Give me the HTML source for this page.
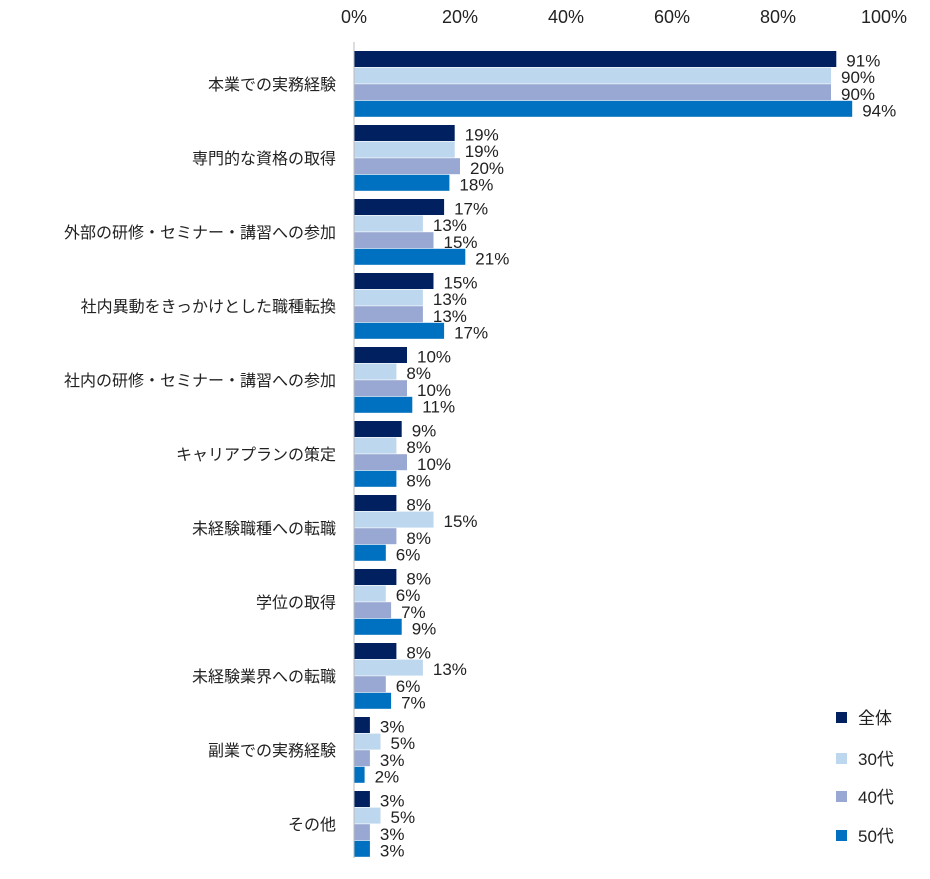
<!DOCTYPE html>
<html><head><meta charset="utf-8">
<style>
html,body{margin:0;padding:0;background:#fff;}
svg text{font-family:"Liberation Sans","Noto Sans CJK JP",sans-serif;fill:#222;}
</style></head>
<body>
<svg id="chart" width="930" height="874" xmlns="http://www.w3.org/2000/svg"></svg>
<script>
const categories = ["本業での実務経験","専門的な資格の取得","外部の研修・セミナー・講習への参加","社内異動をきっかけとした職種転換","社内の研修・セミナー・講習への参加","キャリアプランの策定","未経験職種への転職","学位の取得","未経験業界への転職","副業での実務経験","その他"];
const seriesNames = ["全体","30代","40代","50代"];
const valsAll = [91,19,17,15,10,9,8,8,8,3,3];
const vals30 = [90,19,13,13,8,8,15,6,13,5,5];
const vals40 = [90,20,15,13,10,10,8,7,6,3,3];
const vals50 = [94,18,21,17,11,8,6,9,7,2,3];
const ticks = [0,20,40,60,80,100];
const colors = ["#002060","#BDD7EE","#98A8D2","#0070C0"];
const series = [valsAll, vals30, vals40, vals50];

const NS = "http://www.w3.org/2000/svg";
const svg = document.getElementById("chart");
const x0 = 354, pxPer = 5.3;
const xScale = v => x0 + v * pxPer;
const groupTop = 51, groupPitch = 74, barH = 16.6;
function mk(tag, attrs, txt){
  const e = document.createElementNS(NS, tag);
  for (const k in attrs) e.setAttribute(k, attrs[k]);
  if (txt !== undefined) e.textContent = txt;
  svg.appendChild(e); return e;
}
ticks.forEach(t => {
  const e = mk("text", {x: xScale(t), y: 23, "font-size": 18, "text-anchor": "middle"}, t + "%");
  
  
});
categories.forEach((c, i) => {
  const gy = groupTop + i * groupPitch;
  const l = mk("text", {x: 336, y: gy + 2 * barH + 6, "font-size": 16, "text-anchor": "end"}, c);
  
  
  series.forEach((s, j) => {
    const y = gy + j * barH;
    const r = mk("rect", {x: x0, y: y, width: s[i] * pxPer, height: barH - 0.6, fill: colors[j]});
    
    
    const t = mk("text", {x: xScale(s[i]) + 10, y: y + barH - 1, "font-size": 17}, s[i] + "%");
    
    
  });
});
const ax = mk("line", {x1: x0, y1: 42, x2: x0, y2: 858, stroke: "#bbb", "stroke-width": 1});


const legY = [718, 759, 797, 836];
seriesNames.forEach((n, j) => {
  const r = mk("rect", {x: 836, y: legY[j] - 6, width: 11, height: 11, fill: colors[j]});
  
  
  const t = mk("text", {x: 858, y: legY[j] + 6, "font-size": 17}, n);
  
  
});
</script>
</body></html>
